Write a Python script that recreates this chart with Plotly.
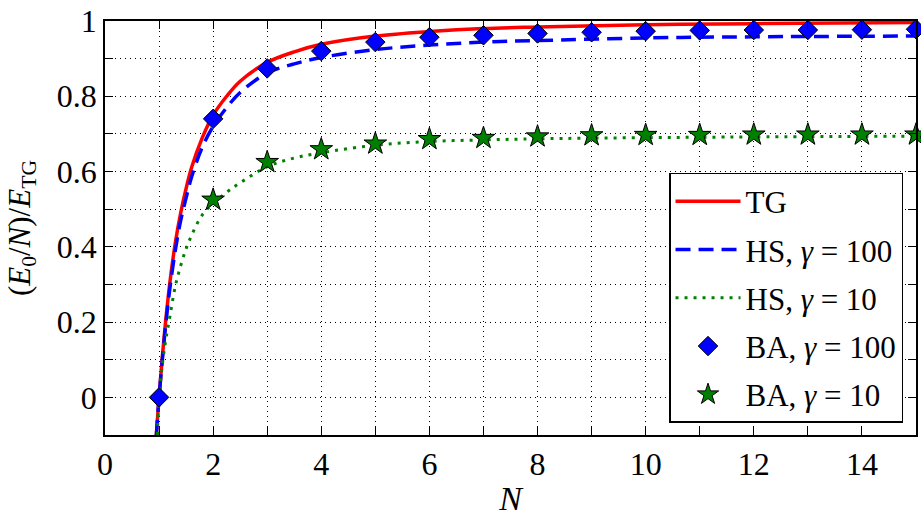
import plotly.graph_objects as go

# ---- data ----
N_curve = [0.95, 1.0, 1.1, 1.2, 1.3, 1.4, 1.5, 1.6, 1.8, 2.0, 2.25, 2.5, 3.0, 3.5, 4.0, 5.0, 6.0, 7.0, 8.0, 10.0, 12.0, 15.0]
tg = [-0.10, 0.0, 0.17, 0.305, 0.41, 0.49, 0.555, 0.61, 0.69, 0.75, 0.80, 0.84, 0.89, 0.918, 0.938, 0.96, 0.972, 0.98, 0.984, 0.99, 0.993, 0.996]
hs100 = [-0.10, 0.0, 0.16, 0.29, 0.39, 0.47, 0.53, 0.585, 0.665, 0.72, 0.77, 0.81, 0.862, 0.886, 0.903, 0.924, 0.936, 0.944, 0.948, 0.955, 0.958, 0.960]
N_dot = [0.97, 1.0, 1.1, 1.2, 1.3, 1.4, 1.5, 1.6, 1.8, 2.0, 2.25, 2.5, 3.0, 3.5, 4.0, 5.0, 6.0, 7.0, 8.0, 10.0, 12.0, 15.0]
hs10 = [-0.10, 0.0, 0.13, 0.215, 0.295, 0.35, 0.395, 0.43, 0.485, 0.515, 0.545, 0.57, 0.613, 0.636, 0.65, 0.670, 0.680, 0.684, 0.687, 0.690, 0.692, 0.694]

N_ba100 = [1, 2, 3, 4, 5, 6, 7, 8, 9, 10, 11, 12, 13, 14, 15]
ba100 = [0.0, 0.74, 0.874, 0.92, 0.944, 0.957, 0.962, 0.967, 0.970, 0.973, 0.975, 0.976, 0.976, 0.977, 0.978]
N_ba10 = [2, 3, 4, 5, 6, 7, 8, 9, 10, 11, 12, 13, 14, 15]
ba10 = [0.525, 0.625, 0.659, 0.674, 0.686, 0.689, 0.693, 0.696, 0.697, 0.697, 0.698, 0.698, 0.698, 0.698]

y_tickvals = [0, 0.2, 0.4, 0.6, 0.8, 1]
y_ticktext = ["0", "0.2", "0.4", "0.6", "0.8", "1"]

FONT = "Liberation Serif, serif"

fig = go.Figure()
fig.add_trace(go.Scatter(x=N_curve, y=tg, mode="lines", name="TG", legendgroup="a",
                         line=dict(color="#ff0000", width=3.5, shape="spline")))
fig.add_trace(go.Scatter(x=N_curve, y=hs100, mode="lines", name="HS, <i>γ</i> = 100", legendgroup="b",
                         line=dict(color="#0000ff", width=3.5, dash="15px,8px", shape="spline")))
fig.add_trace(go.Scatter(x=N_dot, y=hs10, mode="lines", name="HS, <i>γ</i> = 10", legendgroup="c",
                         line=dict(color="#008000", width=3, dash="3px,6px", shape="spline")))
fig.add_trace(go.Scatter(x=N_ba100, y=ba100, mode="markers", name="BA, <i>γ</i> = 100", legendgroup="d",
                         marker=dict(symbol="diamond", color="#0000ff", size=15,
                                     line=dict(color="black", width=1)), cliponaxis=False))
fig.add_trace(go.Scatter(x=N_ba10, y=ba10, mode="markers", name="BA, <i>γ</i> = 10", legendgroup="e",
                         marker=dict(symbol="star", color="#008000", size=17,
                                     line=dict(color="black", width=1)), cliponaxis=False))

axis_common = dict(
    showline=True, linecolor="black", linewidth=1.5, mirror="allticks",
    ticks="inside", ticklen=8, tickcolor="black", tickwidth=1,
    showgrid=True, gridcolor="black", gridwidth=1, griddash="1px,4px",
    zeroline=False, tickfont=dict(family=FONT, size=32, color="black"),
    ticklabeloverflow="allow",
)

fig.update_xaxes(range=[0, 15], tick0=0, dtick=2,
                 minor=dict(dtick=1, ticks="inside", ticklen=8, tickcolor="black",
                            showgrid=True, gridcolor="black", gridwidth=1, griddash="1px,4px"),
                 title=dict(text="<i>N</i>", font=dict(family=FONT, size=34, color="black"), standoff=8),
                 **axis_common)
fig.update_yaxes(range=[-0.1, 1.0], tickmode="array", tickvals=y_tickvals, ticktext=y_ticktext,
                 minor=dict(dtick=0.1, tick0=0, ticks="inside", ticklen=8, tickcolor="black",
                            showgrid=True, gridcolor="black", gridwidth=1, griddash="1px,4px"),
                 title=dict(text="(<i>E</i><sub>0</sub>/<i>N</i>)/<i>E</i><sub>TG</sub>",
                            font=dict(family=FONT, size=31, color="black"), standoff=17),
                 **axis_common)

fig.update_layout(
    width=921, height=517,
    margin=dict(l=105, r=3, t=17, b=80),
    paper_bgcolor="white", plot_bgcolor="white",
    font=dict(family=FONT, color="black"),
    legend=dict(x=0.984, y=0.029, xanchor="right", yanchor="bottom",
                bgcolor="white", bordercolor="black", borderwidth=1.5,
                font=dict(family=FONT, size=31, color="black"),
                traceorder="grouped", tracegroupgap=5, itemwidth=65),
)

fig.write_html("out.html")
